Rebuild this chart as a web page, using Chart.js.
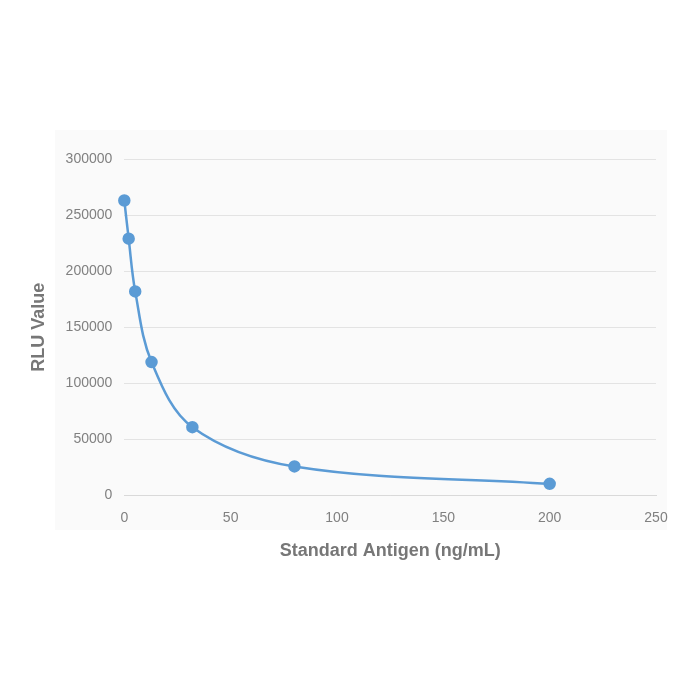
<!DOCTYPE html>
<html><head><meta charset="utf-8">
<script src="https://cdn.jsdelivr.net/npm/chart.js@4/dist/chart.umd.min.js"></script>
<style>html,body{margin:0;padding:0;background:#fff;}#wrap{width:700px;height:700px;}</style>
</head><body><div id="wrap"><canvas id="c" width="700" height="700"></canvas></div>
<script>
const concentrations = [0, 2.048, 5.12, 12.8, 32, 80, 200];
const rluValues = [263000, 229000, 182000, 119000, 61000, 26000, 10500];
const xTicks = [0, 50, 100, 150, 200, 250];
const yTicks = [0, 50000, 100000, 150000, 200000, 250000, 300000];
const xTitle = 'Standard Antigen (ng/mL)';
const yTitle = 'RLU Value';

const bgPlugin = {
  id: 'bg',
  beforeDraw(chart) {
    const ctx = chart.ctx;
    ctx.save();
    ctx.fillStyle = '#fafafa';
    ctx.fillRect(55, 130, 612, 400);
    ctx.restore();
  }
};

new Chart(document.getElementById('c'), {
  type: 'scatter',
  data: {
    datasets: [{
      data: concentrations.map((x, i) => ({x: x, y: rluValues[i]})),
      showLine: true,
      borderColor: '#5b9bd5',
      backgroundColor: '#5b9bd5',
      borderWidth: 2.5,
      pointRadius: 5,
      pointHoverRadius: 5,
      tension: 0.35,
      clip: false
    }]
  },
  plugins: [bgPlugin],
  options: {
    responsive: false,
    animation: false,
    devicePixelRatio: 1,
    layout: {padding: {left: 24, right: 44, top: 159, bottom: 134}},
    plugins: {legend: {display: false}, tooltip: {enabled: false}},
    scales: {
      x: {
        type: 'linear', min: 0, max: 250,
        afterBuildTicks: (s) => { s.ticks = xTicks.map(v => ({value: v})); },
        grid: {display: false, drawTicks: false},
        border: {display: true, color: '#d9d9d9', width: 1},
        ticks: {color: '#808080', font: {family: 'Liberation Sans', size: 14}, padding: 14, callback: (v) => String(v)},
        title: {display: true, text: xTitle, color: '#777777', font: {family: 'Liberation Sans', size: 18, weight: 'bold'}, padding: {top: 0}}
      },
      y: {
        min: 0, max: 300000,
        afterBuildTicks: (s) => { s.ticks = yTicks.map(v => ({value: v})); },
        grid: {color: '#e3e3e3', drawTicks: false},
        border: {display: false},
        ticks: {color: '#808080', font: {family: 'Liberation Sans', size: 14}, padding: 12, callback: (v) => String(v)},
        title: {display: true, text: yTitle, color: '#777777', font: {family: 'Liberation Sans', size: 18, weight: 'bold'}, padding: {bottom: 4}}
      }
    }
  }
});
</script>
</body></html>
